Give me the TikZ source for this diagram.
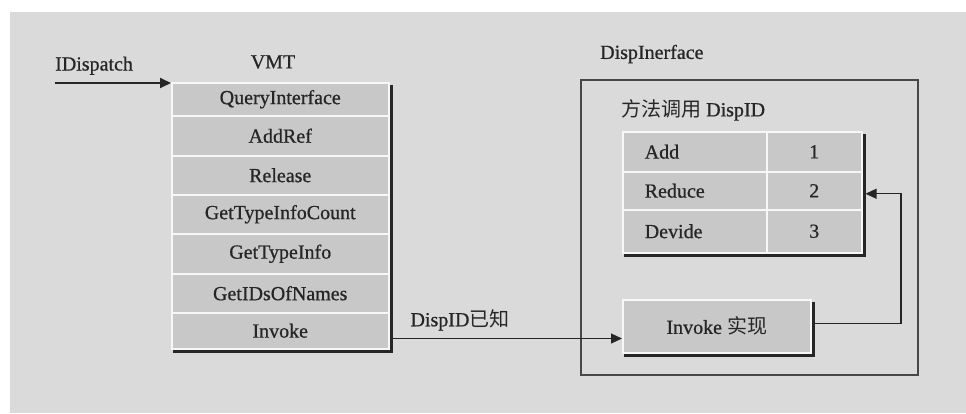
\documentclass[tikz,border=0pt]{standalone}
\usepackage{fontspec}
\setmainfont{Liberation Serif}[FakeBold=0.7]
\newfontfamily\cjk{Noto Sans CJK SC}
\usetikzlibrary{arrows.meta,calc}
\definecolor{bgc}{HTML}{DADADA}
\definecolor{cellc}{HTML}{C8C8C8}
\definecolor{ink}{HTML}{262626}
\tikzset{
  x=1pt,y=-1pt,
  txt/.style={font=\fontsize{20}{22}\selectfont, text=ink, inner sep=0pt},
  cell/.style={txt, fill=cellc, draw=white!85!cellc, line width=1.5pt, anchor=north west},
  shadow/.style={draw=ink, line width=3pt},
  arr/.style={draw=ink, line width=1.3pt, -{Triangle[length=11pt,width=10pt]}},
  frame/.style={draw=ink!85, line width=1.5pt},
}
\begin{document}
\begin{tikzpicture}
\useasboundingbox (0,0) rectangle (966,413);
\fill[white] (0,0) rectangle (966,413);
\fill[bgc] (10,12) rectangle (966,413);

% VMT table
\node[txt] (vmtl) at (273,62) {VMT};
\node[cell, minimum width=217pt, minimum height=33pt] (v1) at (171,82) {QueryInterface};
\node[cell, minimum width=217pt, minimum height=40pt] (v2) at (171,115) {AddRef};
\node[cell, minimum width=217pt, minimum height=39pt] (v3) at (171,155) {Release};
\node[cell, minimum width=217pt, minimum height=39pt] (v4) at (171,194) {GetTypeInfoCount};
\node[cell, minimum width=217pt, minimum height=40pt] (v5) at (171,233) {GetTypeInfo};
\node[cell, minimum width=217pt, minimum height=39pt] (v6) at (171,273) {GetIDsOfNames};
\node[cell, minimum width=217pt, minimum height=36pt] (v7) at (171,312) {Invoke};
\draw[shadow] ([xshift=1.5pt,yshift=-3pt]v1.north east) -- ([xshift=1.5pt,yshift=-1.5pt]v7.south east) -- ([xshift=2pt,yshift=-1.5pt]v7.south west);

% IDispatch
\node[txt, anchor=south west] (idl) at (55,75) {IDispatch};
\coordinate (idstart) at (55,83);
\draw[arr, line width=1.8pt] (idstart) -- (idstart -| v1.west);

% DispInterface frame
\node[txt, anchor=west] (dil) at (600,54) {DispInerface};
\node[frame, anchor=north west, minimum width=337pt, minimum height=295pt] (outer) at (580,79) {};
\node[txt, anchor=west] (mdl) at (621,110) {{\cjk 方法调用} DispID};

% method table
\node[cell, minimum width=144pt, minimum height=40pt, text width=100pt, align=left, inner xsep=22pt] (a1) at (622,131) {Add};
\node[cell, minimum width=95pt, minimum height=40pt] (b1) at (766,131) {1};
\node[cell, minimum width=144pt, minimum height=38pt, text width=100pt, align=left, inner xsep=22pt] (a2) at (622,171) {Reduce};
\node[cell, minimum width=95pt, minimum height=38pt] (b2) at (766,171) {2};
\node[cell, minimum width=144pt, minimum height=43pt, text width=100pt, align=left, inner xsep=22pt] (a3) at (622,209) {Devide};
\node[cell, minimum width=95pt, minimum height=43pt] (b3) at (766,209) {3};
\draw[shadow] ([xshift=1.5pt,yshift=-3pt]b1.north east) -- ([xshift=1.5pt,yshift=-1.5pt]b3.south east) -- ([xshift=2pt,yshift=-1.5pt]a3.south west);

% Invoke implementation
\node[cell, minimum width=188pt, minimum height=53pt] (impl) at (622,299) {Invoke {\cjk 实现}};
\draw[shadow] ([xshift=1.5pt,yshift=-3pt]impl.north east) -- ([xshift=1.5pt,yshift=-1.5pt]impl.south east) -- ([xshift=2pt,yshift=-1.5pt]impl.south west);

% connectors
\coordinate (inv) at ([xshift=3pt,yshift=11pt]v7.south east);
\draw[arr] (inv) -- (inv -| impl.west);
\node[txt] (dk) at (460,320) {DispID{\cjk 已知}};

\coordinate (ret) at ([xshift=3pt,yshift=3pt]impl.east);
\coordinate (up) at (901,323);
\draw[arr] (ret) -- (ret -| up) |- ([xshift=3pt,yshift=-3pt]b2.east);
\end{tikzpicture}
\end{document}
